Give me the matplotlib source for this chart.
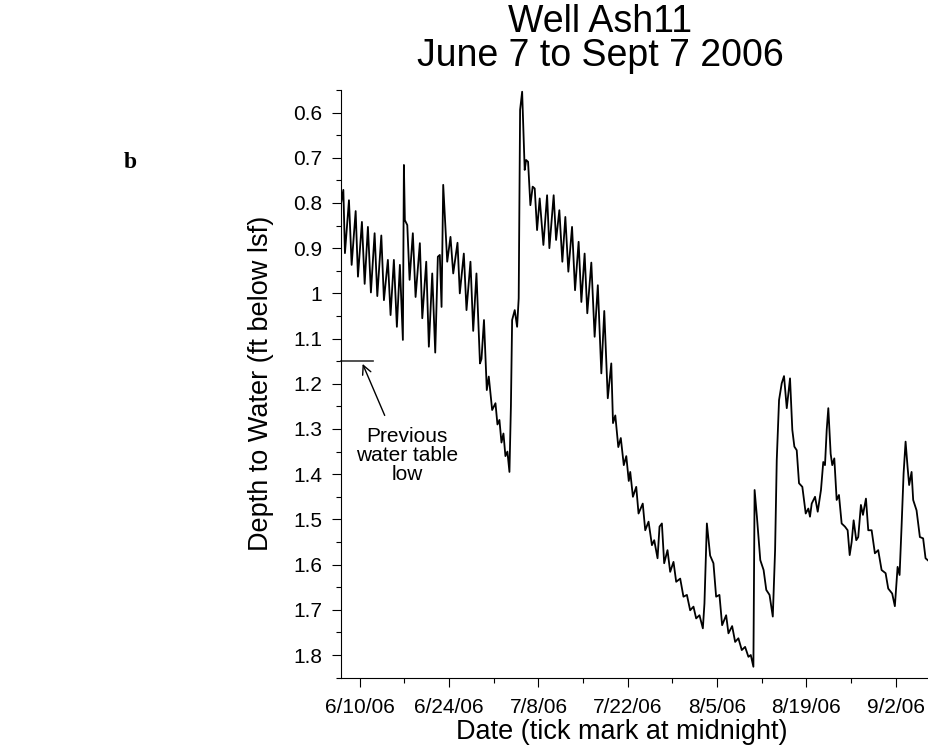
import numpy as np
import pandas as pd
import matplotlib
matplotlib.use('Agg')
import matplotlib.pyplot as plt
import matplotlib.dates as mdates
from matplotlib.ticker import MultipleLocator, FuncFormatter

plt.rcParams['font.family'] = ['Liberation Sans', 'DejaVu Sans']

# logger record start (midnight, June 7 2006)
start = pd.Timestamp('2006-06-07')

# elapsed time since start (days) and depth to water (ft below land surface)
day_offset = [
    0.11, 0.42, 0.67, 1.30, 1.72, 2.35, 2.71, 3.33, 3.76, 4.27,
    4.74, 5.32, 5.74, 6.37, 6.78, 7.40, 7.82, 8.34, 8.81, 9.28,
    9.75, 9.91, 10.06, 10.44, 10.80, 11.31, 11.74, 12.41, 12.79, 13.41,
    13.82, 14.35, 14.82, 15.23, 15.54, 15.81, 16.07, 16.70, 17.21, 17.64,
    18.31, 18.67, 19.30, 19.72, 20.34, 20.77, 21.28, 21.83, 22.07, 22.46,
    22.90, 23.21, 23.74, 24.26, 24.57, 24.88, 25.20, 25.51, 25.82, 26.13,
    26.45, 26.68, 26.87, 27.28, 27.65, 27.90, 28.12, 28.44, 28.84, 29.06,
    29.37, 29.73, 30.09, 30.41, 30.78, 31.19, 31.77, 32.35, 32.71, 33.38,
    33.76, 34.27, 34.74, 35.21, 35.68, 36.26, 36.73, 37.29, 37.72, 38.23,
    38.65, 39.28, 39.80, 40.30, 40.85, 41.31, 41.86, 42.41, 42.68, 43.04,
    43.51, 43.90, 44.37, 44.76, 45.15, 45.38, 45.80, 46.32, 46.68, 47.34,
    47.73, 48.25, 48.78, 49.14, 49.66, 49.97, 50.34, 50.70, 51.22, 51.64,
    52.16, 52.58, 53.21, 53.72, 54.26, 54.77, 55.29, 55.71, 56.23, 56.76,
    57.01, 57.39, 57.90, 58.42, 58.84, 59.36, 59.78, 60.41, 60.77, 61.35,
    61.82, 62.33, 62.86, 63.38, 63.90, 64.27, 64.68, 64.87, 65.23, 65.76,
    66.28, 66.70, 67.21, 67.72, 68.08, 68.34, 68.70, 69.12, 69.48, 69.91,
    70.42, 70.78, 71.10, 71.47, 71.83, 72.35, 72.88, 73.29, 73.55, 73.82,
    74.34, 74.76, 75.27, 75.63, 75.90, 76.17, 76.42, 76.79, 77.04, 77.36,
    77.73, 78.09, 78.51, 79.03, 79.45, 79.77, 80.08, 80.39, 80.80, 81.11,
    81.53, 81.85, 82.32, 82.68, 83.21, 83.72, 84.24, 84.77, 85.40, 85.81,
    86.43, 86.85, 87.28, 87.59, 87.90, 88.22, 88.53, 88.84, 89.09, 89.47,
    89.72, 90.25, 90.77, 91.28, 91.66, 92.07,
]
depth_ft = [
    0.797, 0.771, 0.911, 0.794, 0.937, 0.818, 0.963, 0.842, 0.979, 0.853,
    0.998, 0.867, 1.006, 0.872, 1.015, 0.926, 1.048, 0.926, 1.074, 0.937,
    1.103, 0.716, 0.838, 0.849, 0.970, 0.867, 1.008, 0.889, 1.055, 0.930,
    1.118, 0.956, 1.131, 0.919, 0.915, 1.030, 0.760, 0.930, 0.875, 0.956,
    0.888, 1.000, 0.912, 1.037, 0.930, 1.083, 0.956, 1.155, 1.145, 1.059,
    1.214, 1.184, 1.258, 1.243, 1.290, 1.280, 1.330, 1.310, 1.360, 1.350,
    1.395, 1.250, 1.059, 1.037, 1.074, 1.011, 0.594, 0.554, 0.727, 0.705,
    0.709, 0.805, 0.764, 0.768, 0.860, 0.790, 0.893, 0.783, 0.900, 0.783,
    0.882, 0.816, 0.930, 0.831, 0.952, 0.853, 0.993, 0.886, 1.019, 0.912,
    1.044, 0.932, 1.096, 0.982, 1.177, 1.039, 1.232, 1.155, 1.287, 1.270,
    1.340, 1.320, 1.380, 1.360, 1.415, 1.395, 1.450, 1.428, 1.487, 1.465,
    1.524, 1.505, 1.557, 1.546, 1.586, 1.516, 1.509, 1.597, 1.568, 1.616,
    1.594, 1.638, 1.631, 1.671, 1.667, 1.701, 1.693, 1.719, 1.712, 1.741,
    1.686, 1.509, 1.580, 1.597, 1.671, 1.667, 1.734, 1.712, 1.752, 1.736,
    1.771, 1.763, 1.789, 1.782, 1.804, 1.800, 1.826, 1.435, 1.494, 1.590,
    1.612, 1.656, 1.667, 1.715, 1.568, 1.369, 1.236, 1.199, 1.183, 1.254,
    1.188, 1.302, 1.339, 1.347, 1.420, 1.428, 1.487, 1.476, 1.494, 1.465,
    1.450, 1.483, 1.435, 1.373, 1.380, 1.302, 1.254, 1.355, 1.380, 1.365,
    1.457, 1.446, 1.509, 1.516, 1.524, 1.579, 1.550, 1.502, 1.546, 1.539,
    1.468, 1.490, 1.454, 1.524, 1.524, 1.575, 1.568, 1.612, 1.619, 1.653,
    1.664, 1.692, 1.605, 1.623, 1.516, 1.398, 1.328, 1.384, 1.424, 1.395,
    1.457, 1.480, 1.539, 1.542, 1.586, 1.591,
]

major_dates = ['2006-06-10', '2006-06-24', '2006-07-08', '2006-07-22',
               '2006-08-05', '2006-08-19', '2006-09-02']
major_labels = ['6/10/06', '6/24/06', '7/8/06', '7/22/06',
                '8/5/06', '8/19/06', '9/2/06']
minor_dates = ['2006-06-17', '2006-07-01', '2006-07-15', '2006-07-29',
               '2006-08-12', '2006-08-26']

# previous seasonal low of the water table
prev_low_ft = 1.15
prev_low_len_days = 5.1

t = start + pd.to_timedelta(day_offset, unit='D')


def day(d):
    return mdates.date2num(start + pd.Timedelta(days=d))


fig = plt.figure(figsize=(9.29, 7.5), dpi=100)
ax = fig.add_axes([0.3667, 0.0965, 0.6333, 0.7836])

ax.plot(t, depth_ft, color='black', lw=1.3)

ax.set_xlim(day(0), day(92.2))
ax.set_ylim(1.85, 0.55)

ax.yaxis.set_major_locator(MultipleLocator(0.1))
ax.yaxis.set_minor_locator(MultipleLocator(0.05))
ax.yaxis.set_major_formatter(FuncFormatter(lambda v, p: f'{round(v, 2):g}'))

ax.set_xticks(mdates.date2num(pd.to_datetime(major_dates)))
ax.set_xticklabels(major_labels)
ax.set_xticks(mdates.date2num(pd.to_datetime(minor_dates)), minor=True)

ax.tick_params(axis='both', which='major', labelsize=15, length=6.5,
               width=0.8, direction='out')
ax.tick_params(axis='both', which='minor', length=3.5, width=0.8,
               direction='out')
ax.tick_params(axis='y', which='major', pad=7)
ax.tick_params(axis='x', which='major', pad=8)

for s in ['top', 'right']:
    ax.spines[s].set_visible(False)
for s in ['left', 'bottom']:
    ax.spines[s].set_linewidth(0.8)

# previous water table low marker
ax.plot([day(0), day(prev_low_len_days)], [prev_low_ft, prev_low_ft],
        color='#333333', lw=1.2, clip_on=False)
ax.annotate('', xy=(day(3.44), 1.156), xytext=(day(6.9), 1.27),
            arrowprops=dict(arrowstyle='->', lw=1.0, color='black',
                            shrinkA=0, shrinkB=0, mutation_scale=16))
ax.text(day(10.4), 1.358, 'Previous\nwater table\nlow', ha='center',
        va='center', fontsize=15, linespacing=1.0)

fig.text(600 / 929, 1 - 22 / 750, 'Well Ash11', ha='center', va='center',
         fontsize=27)
fig.text(600 / 929, 1 - 56 / 750, 'June 7 to Sept 7 2006', ha='center',
         va='center', fontsize=27)

fig.text(261 / 929, 1 - 383.7 / 750, 'Depth to Water (ft below lsf)',
         rotation=90, ha='center', va='center', fontsize=19.5)
fig.text(622 / 929, 1 - 732 / 750, 'Date (tick mark at midnight)',
         ha='center', va='center', fontsize=19.5)

fig.text(130 / 929, 1 - 162 / 750, 'b', family='Liberation Serif',
         weight='bold', fontsize=17, ha='center', va='center')

fig.savefig('out.png', dpi=100)
